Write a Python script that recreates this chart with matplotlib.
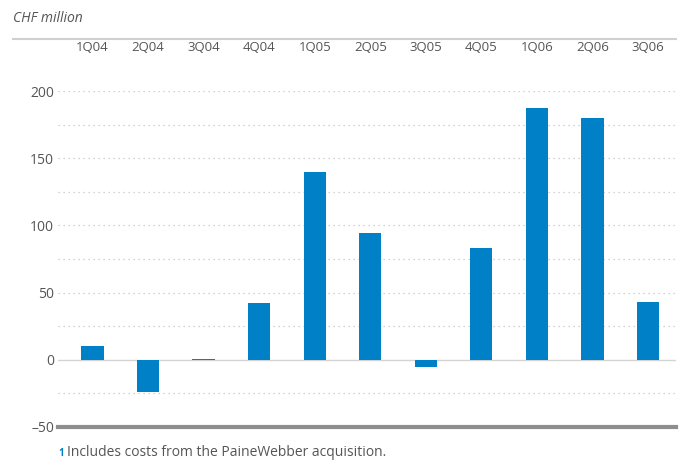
import matplotlib
matplotlib.use("Agg")
import matplotlib.pyplot as plt
import numpy as np

quarters = ["1Q04", "2Q04", "3Q04", "4Q04", "1Q05", "2Q05", "3Q05", "4Q05", "1Q06", "2Q06", "3Q06"]
values = [10, -24, 0.6, 42, 140, 94, -5, 83, 187, 180, 43]
yticks = [-50, 0, 50, 100, 150, 200]
grid_levels = [-25, 25, 50, 75, 100, 125, 150, 175, 200]

BLUE = "#0080c6"
TEXT = "#555555"

plt.rcParams["font.family"] = ["Open Sans", "DejaVu Sans"]

fig = plt.figure(figsize=(6.91, 4.66), dpi=100)
ax = fig.add_axes([0.084, 0.0837, 0.894, 0.721])

x = np.arange(len(quarters))
ax.bar(x, values, width=0.4, color=BLUE, zorder=3)

ax.set_xlim(-0.62, len(quarters) - 0.5)
ax.set_ylim(-50, 200)

for g in grid_levels:
    ax.axhline(g, color="#c4c4c4", linewidth=0.9, linestyle=(0, (1, 3)), zorder=1)
ax.axhline(0, color="#d4d4d4", linewidth=1.0, zorder=2)
ax.axhline(-50, color="#8e8e8e", linewidth=3.0, zorder=2, clip_on=False)

ax.xaxis.tick_top()
ax.set_xticks(x)
ax.set_xticklabels(quarters, fontsize=9.5, color=TEXT)
ax.tick_params(axis="x", length=0, pad=27)
ax.set_yticks(yticks)
ax.set_yticklabels(["\u201350" if v < 0 else str(v) for v in yticks], fontsize=10, color=TEXT)
ax.tick_params(axis="y", length=0, pad=3)
for s in ax.spines.values():
    s.set_visible(False)

# header rule and unit label
fig.add_artist(plt.Line2D([0.019, 0.978], [1 - 39 / 466, 1 - 39 / 466], color="#d0d0d0", linewidth=1.5))
fig.text(0.019, 1 - 18 / 466, "CHF million", fontsize=10, style="italic", color=TEXT, va="center")

# footnote
fig.text(0.084, 1 - 454 / 466, "1", fontsize=7, color=BLUE, va="center", fontweight="bold")
fig.text(0.097, 1 - 453 / 466, "Includes costs from the PaineWebber acquisition.", fontsize=10, color=TEXT, va="center")

fig.savefig("out.png", dpi=100)
